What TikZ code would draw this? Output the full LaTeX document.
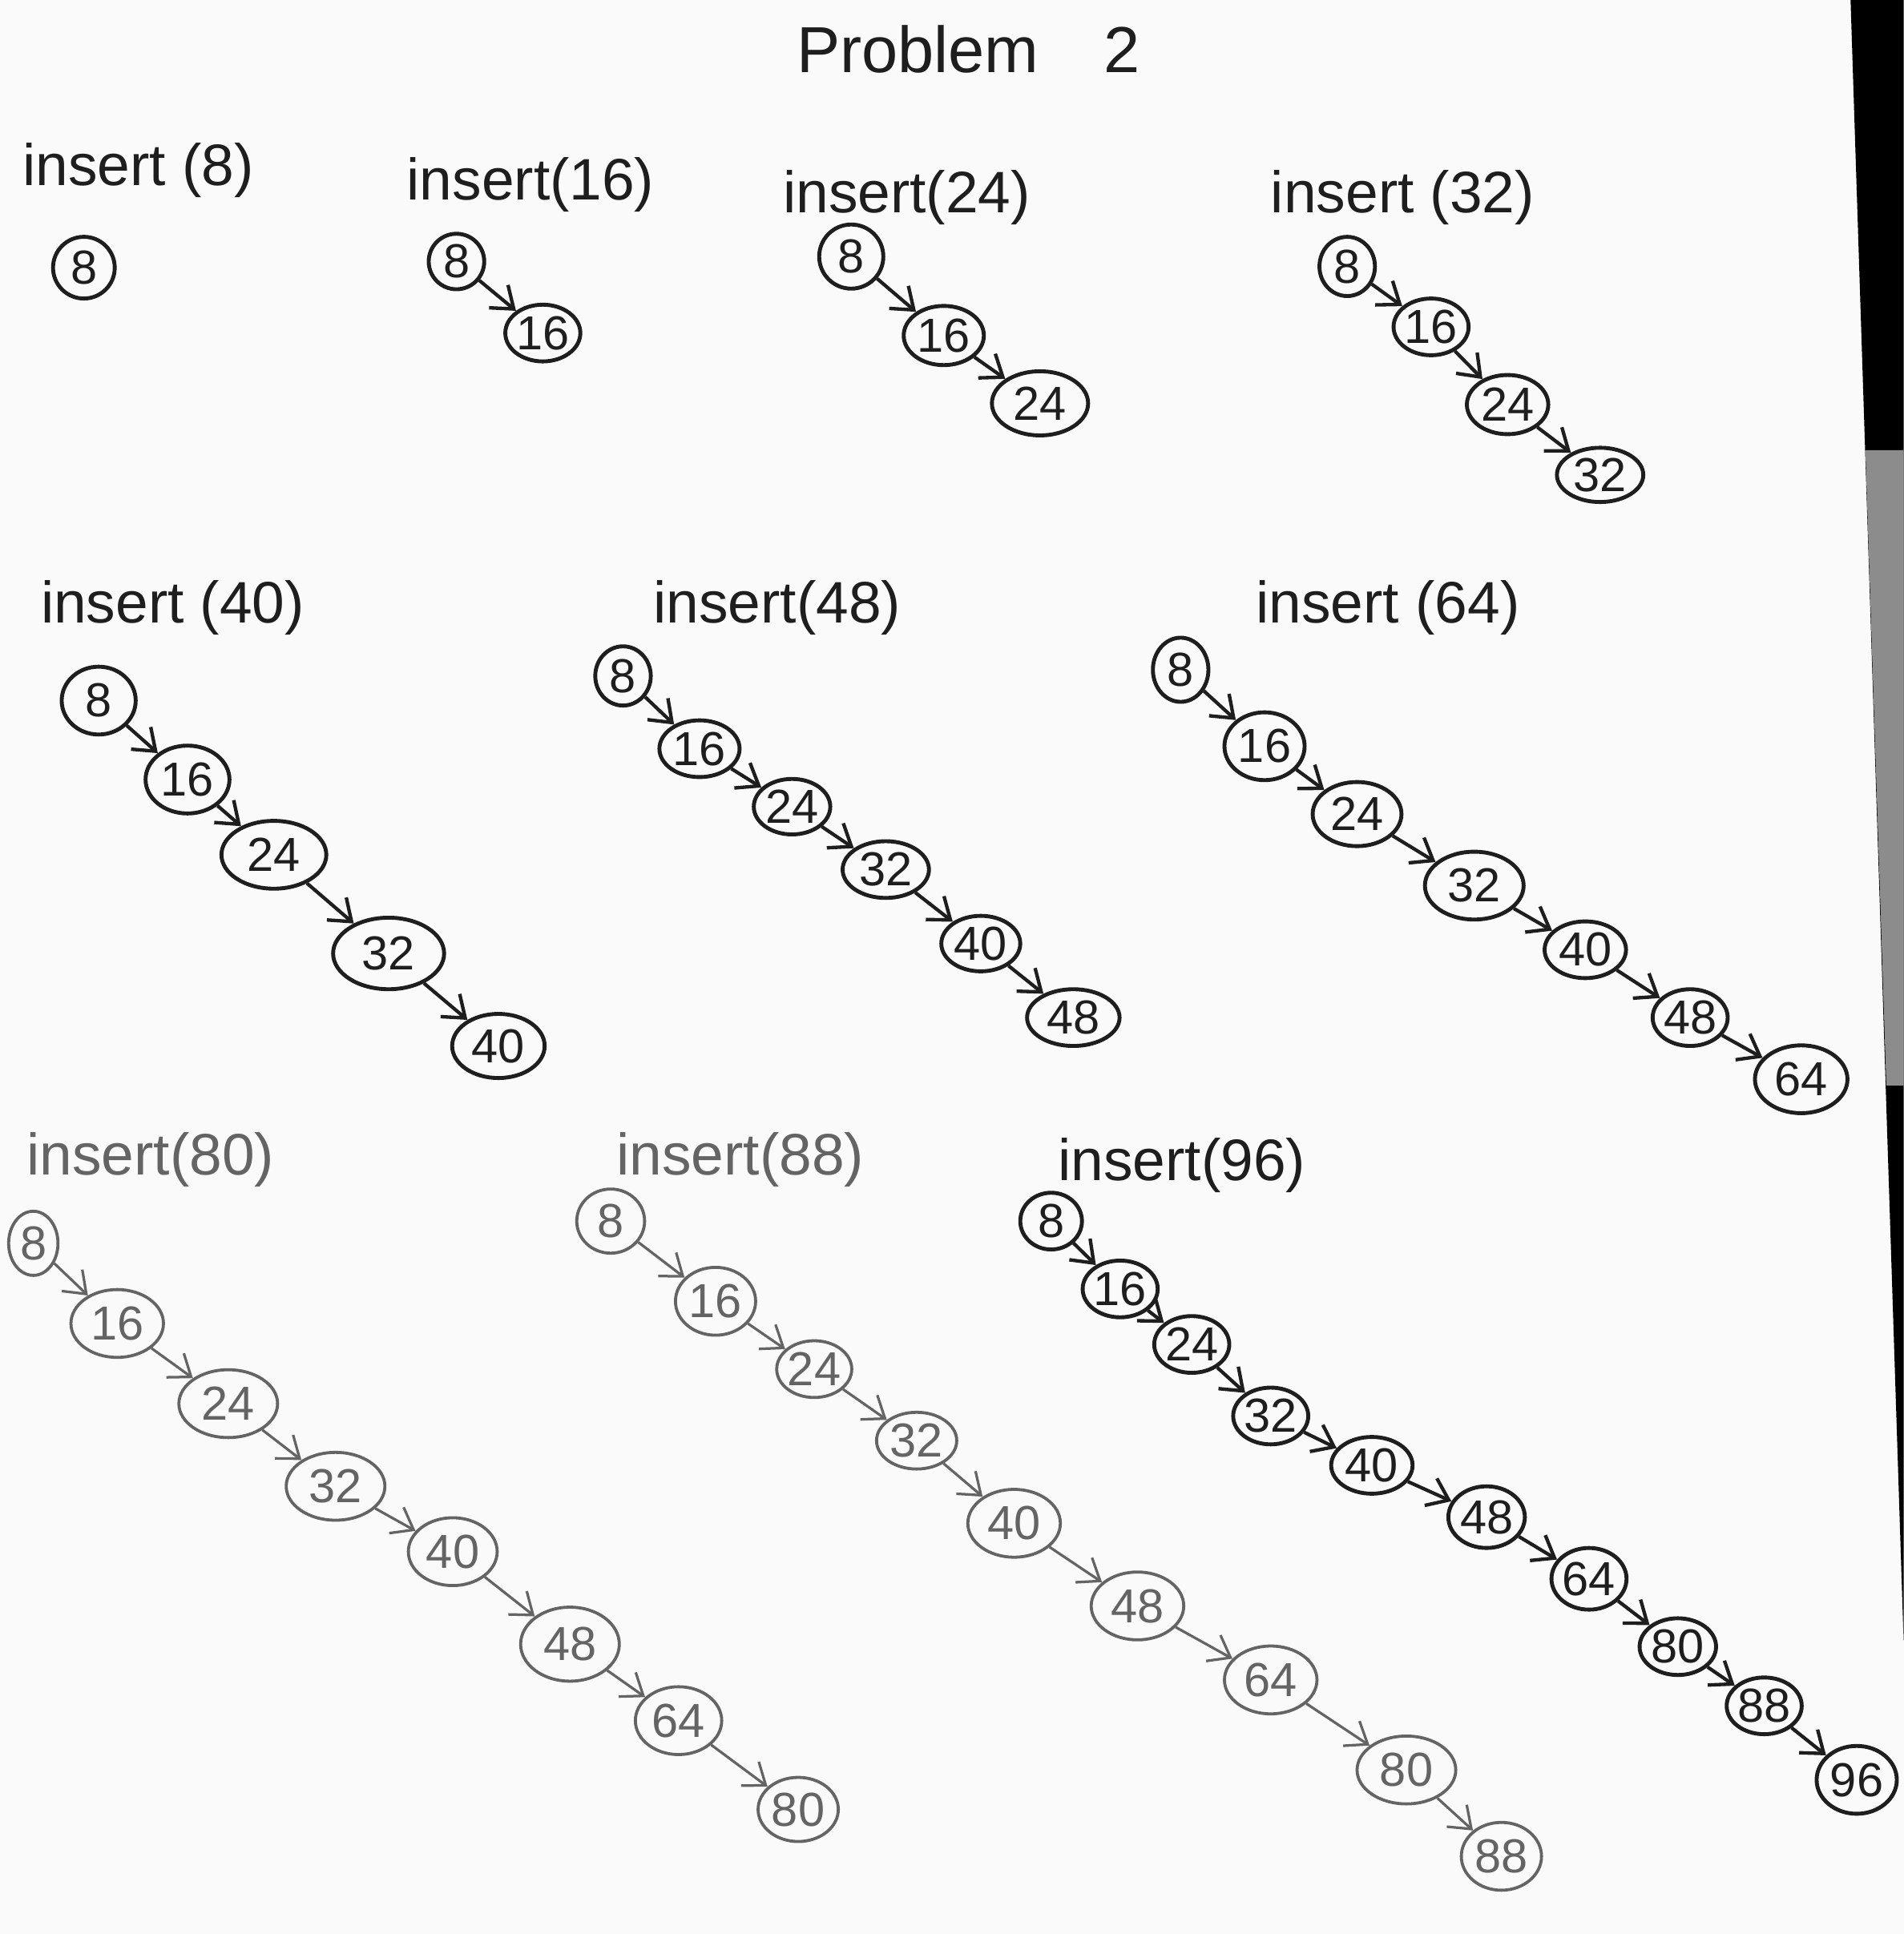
\documentclass[tikz,border=0pt]{standalone}
\usepackage{fontspec}
\setmainfont{Liberation Sans}
\usetikzlibrary{arrows.meta,shapes.geometric}
\definecolor{paper}{RGB}{250,250,250}
\definecolor{ink}{RGB}{30,30,30}
\definecolor{pencil}{RGB}{100,100,100}
\tikzset{
  key/.style={ellipse,draw=ink,line width=.9pt,inner sep=0pt,text=ink,font=\fontsize{11}{11}\selectfont},
  key gray/.style={key,draw=pencil,line width=.7pt,text=pencil},
  link/.style={-{Straight Barb[length=1.6mm,width=2.4mm]},line width=.8pt,draw=ink},
  link gray/.style={link,draw=pencil,line width=.6pt},
  caption/.style={text=ink,font=\fontsize{13.5}{14}\selectfont},
  caption gray/.style={caption,text=pencil}
}
\begin{document}
\begin{tikzpicture}[x=.01cm,y=-.01cm]
  % sheet and the dark edge of the photo
  \fill[paper] (0,0) rectangle (1543,1568);
  \fill[black] (1500,0) -- (1543,0) -- (1543,1330) -- cycle;
  \fill[black!45] (1512,365) -- (1543,365) -- (1543,880) -- (1529,880) -- cycle;
  \useasboundingbox (0,0) rectangle (1543,1568);

  \node[caption,font=\fontsize{15}{15}\selectfont] (title) at (785,40) {Problem\quad 2};

  % row 1
  \node[caption] (lab-a) at (112,138) {insert (8)};
  \node[key,minimum width=.5cm,minimum height=.5cm] (a-8) at (68,217) {8};

  \node[caption] (lab-b) at (430,150) {insert(16)};
  \foreach \v/\x/\y/\w/\h in {8/370/212/45/45,16/440/270/58/46}
    \node[key,minimum width=\w*.01cm,minimum height=\h*.01cm] (b-\v) at (\x,\y) {\v};
  \draw[link] (b-8) -- (b-16);

  \node[caption] (lab-c) at (735,160) {insert(24)};
  \foreach \v/\x/\y/\w/\h in {8/690/208/52/52,16/765/272/65/48,24/843/327/78/52}
    \node[key,minimum width=\w*.01cm,minimum height=\h*.01cm] (c-\v) at (\x,\y) {\v};
  \foreach \a/\b in {8/16,16/24}
    \draw[link] (c-\a) -- (c-\b);

  \node[caption] (lab-d) at (1137,160) {insert (32)};
  \foreach \v/\x/\y/\w/\h in {8/1092/216/45/48,16/1160/265/58/46,24/1222/328/66/48,32/1297/385/70/44}
    \node[key,minimum width=\w*.01cm,minimum height=\h*.01cm] (d-\v) at (\x,\y) {\v};
  \foreach \a/\b in {8/16,16/24,24/32}
    \draw[link] (d-\a) -- (d-\b);

  % row 2
  \node[caption] (lab-e) at (140,493) {insert (40)};
  \foreach \v/\x/\y/\w/\h in {8/80/568/60/55,16/152/632/68/55,24/222/693/85/55,32/315/773/90/58,40/404/848/75/52}
    \node[key,minimum width=\w*.01cm,minimum height=\h*.01cm] (e-\v) at (\x,\y) {\v};
  \foreach \a/\b in {8/16,16/24,24/32,32/40}
    \draw[link] (e-\a) -- (e-\b);

  \node[caption] (lab-f) at (630,493) {insert(48)};
  \foreach \v/\x/\y/\w/\h in {8/505/548/45/48,16/567/607/65/46,24/642/654/62/45,32/718/705/70/46,40/795/765/64/45,48/870/825/75/46}
    \node[key,minimum width=\w*.01cm,minimum height=\h*.01cm] (f-\v) at (\x,\y) {\v};
  \foreach \a/\b in {8/16,16/24,24/32,32/40,40/48}
    \draw[link] (f-\a) -- (f-\b);

  \node[caption] (lab-g) at (1125,493) {insert (64)};
  \foreach \v/\x/\y/\w/\h in {8/957/543/45/52,16/1025/605/65/55,24/1100/660/72/52,32/1195/718/80/55,40/1285/770/66/46,48/1370/825/60/46,64/1460/875/75/55}
    \node[key,minimum width=\w*.01cm,minimum height=\h*.01cm] (g-\v) at (\x,\y) {\v};
  \foreach \a/\b in {8/16,16/24,24/32,32/40,40/48,48/64}
    \draw[link] (g-\a) -- (g-\b);

  % row 3
  \node[caption gray] (lab-h) at (122,940) {insert(80)};
  \foreach \v/\x/\y/\w/\h in {8/27/1008/40/52,16/95/1073/75/55,24/185/1138/80/55,32/272/1205/80/55,40/367/1258/72/55,48/462/1333/80/60,64/550/1395/70/55,80/647/1467/65/52}
    \node[key gray,minimum width=\w*.01cm,minimum height=\h*.01cm] (h-\v) at (\x,\y) {\v};
  \foreach \a/\b in {8/16,16/24,24/32,32/40,40/48,48/64,64/80}
    \draw[link gray] (h-\a) -- (h-\b);

  \node[caption gray] (lab-k) at (600,940) {insert(88)};
  \foreach \v/\x/\y/\w/\h in {8/495/990/55/52,16/580/1055/65/55,24/660/1110/56/46,32/743/1168/65/46,40/822/1235/75/55,48/922/1302/75/55,64/1030/1362/75/55,80/1140/1435/80/55,88/1217/1505/65/55}
    \node[key gray,minimum width=\w*.01cm,minimum height=\h*.01cm] (k-\v) at (\x,\y) {\v};
  \foreach \a/\b in {8/16,16/24,24/32,32/40,40/48,48/64,64/80,80/88}
    \draw[link gray] (k-\a) -- (k-\b);

  \node[caption] (lab-m) at (958,945) {insert(96)};
  \foreach \v/\x/\y/\w/\h in {8/852/990/50/46,16/908/1045/54/46,24/966/1090/54/46,32/1030/1148/60/46,40/1112/1188/66/46,48/1205/1230/62/50,64/1288/1280/58/50,80/1360/1335/62/46,88/1430/1383/54/46,96/1505/1443/65/55}
    \node[key,minimum width=\w*.01cm,minimum height=\h*.01cm] (m-\v) at (\x,\y) {\v};
  \foreach \a/\b in {8/16,16/24,24/32,32/40,40/48,48/64,64/80,80/88,88/96}
    \draw[link] (m-\a) -- (m-\b);
\end{tikzpicture}
\end{document}
